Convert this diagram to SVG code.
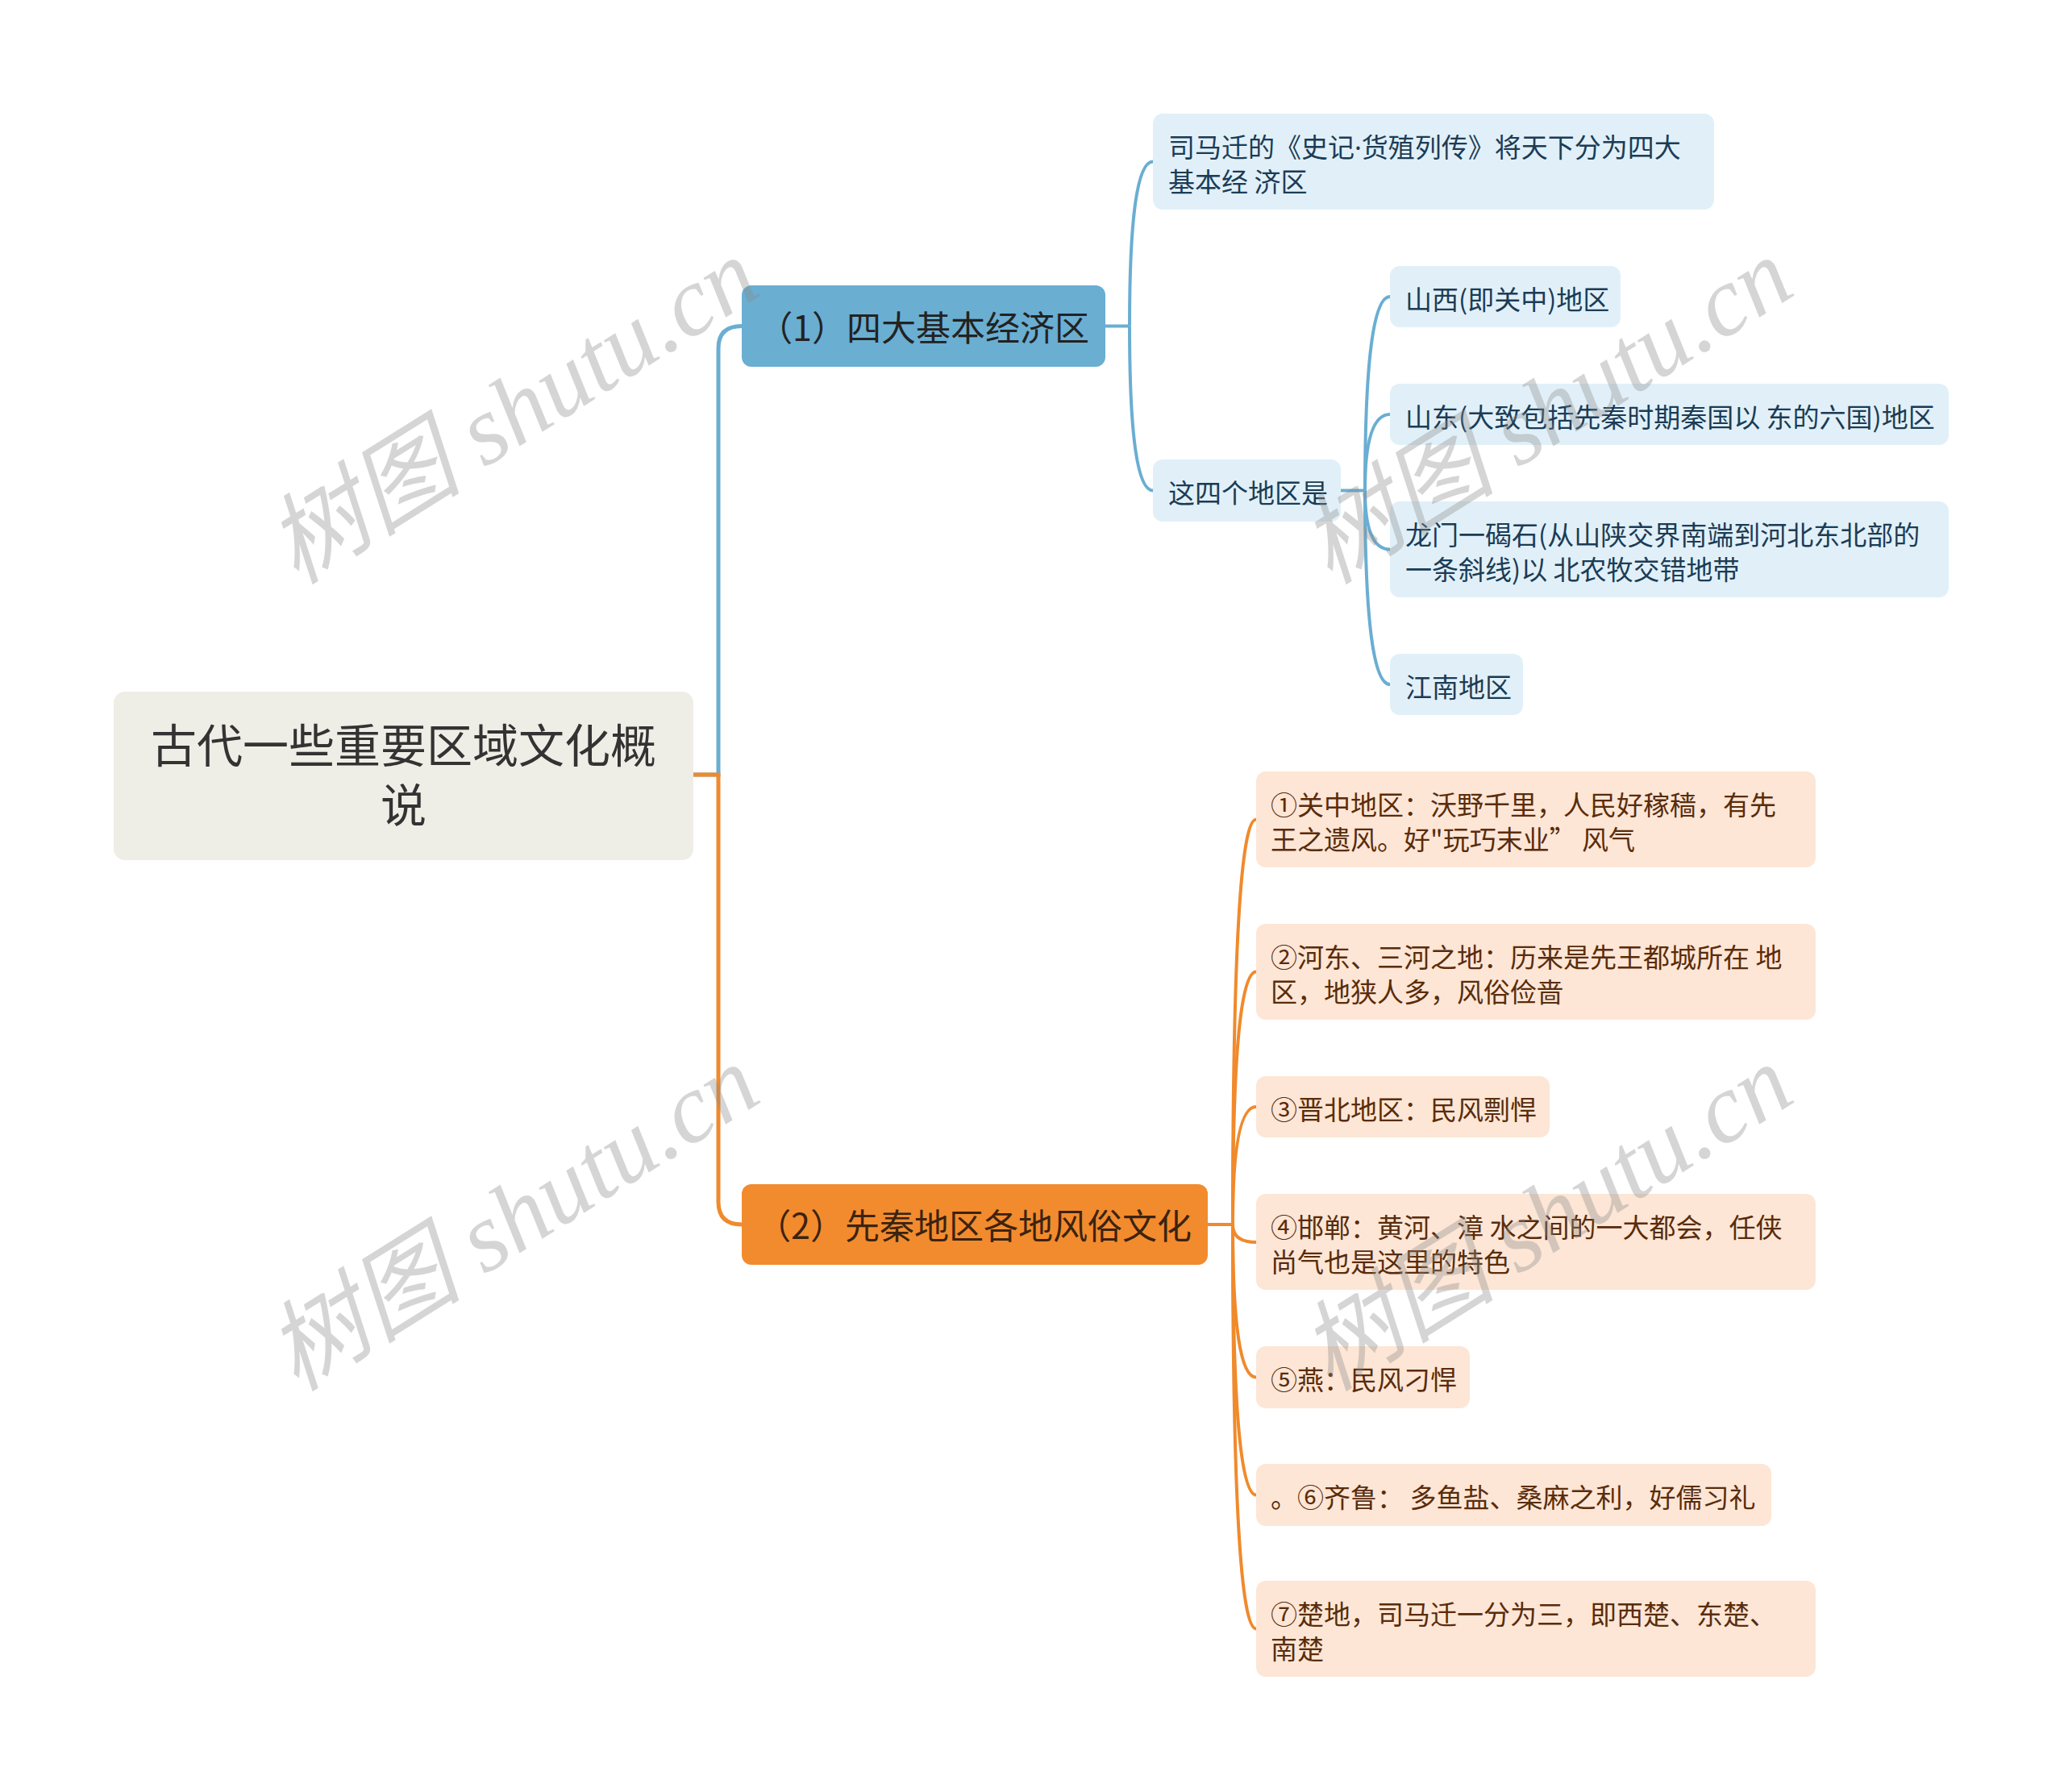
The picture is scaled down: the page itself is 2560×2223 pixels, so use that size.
<svg xmlns="http://www.w3.org/2000/svg" width="2560" height="2223" viewBox="0 0 2560 2223">
<style>
text{font-family:"Noto Sans CJK SC","Noto Sans",sans-serif;}
.root{fill:#efeee6;}
.rootT{font-size:57px;fill:#333333;text-anchor:middle;}
.b1{fill:#6aaed2;}
.b1T{font-size:43px;fill:#222222;text-anchor:end;}
.o1{fill:#f28b2e;}
.o1T{font-size:43px;fill:#3c230f;text-anchor:end;}
.b2{fill:#e1f0f8;}
.b2T{font-size:33px;fill:#1b3c56;}
.o2{fill:#fde6d6;}
.o2T{font-size:33px;fill:#5a2c0b;}
.lat{font-family:"Noto Sans","DejaVu Sans",sans-serif;}
.lb{fill:none;stroke:#6aaed2;}
.lo{fill:none;stroke:#f08a2c;}
.w1{stroke-width:5;}
.w2{stroke-width:4;}
.wm{font-family:"Liberation Serif","Noto Sans CJK SC",serif;font-style:italic;font-size:122px;fill:#8a8a8a;opacity:0.35;text-anchor:middle;}
</style>
<rect width="2560" height="2223" fill="#ffffff"/>
<g id="connectors">
<path class="lb w1" d="M860 961 H891 V432 Q891 404.5 920 404.5"/>
<path class="lo w1" d="M860 961 H891 V1491 Q891 1519 920 1519"/>
<path class="lb w2" d="M1371 404.5 H1401"/>
<path class="lb w2" d="M1401 404.5 Q1401 200.5 1430 200.5"/>
<path class="lb w2" d="M1401 404.5 Q1401 608.5 1430 608.5"/>
<path class="lb w2" d="M1663 608.5 H1693"/>
<path class="lb w2" d="M1693 608.5 Q1693 368 1724 368"/>
<path class="lb w2" d="M1693 608.5 Q1693 514 1724 514"/>
<path class="lb w2" d="M1693 608.5 Q1693 681.5 1724 681.5"/>
<path class="lb w2" d="M1693 608.5 Q1693 849 1724 849"/>
<path class="lo w2" d="M1498 1519 H1529"/>
<path class="lo w2" d="M1529 1519 Q1529 1016.5 1558 1016.5"/>
<path class="lo w2" d="M1529 1519 Q1529 1205.5 1558 1205.5"/>
<path class="lo w2" d="M1529 1519 Q1529 1373 1558 1373"/>
<path class="lo w2" d="M1529 1519 Q1529 1541 1558 1541"/>
<path class="lo w2" d="M1529 1519 Q1529 1708.5 1558 1708.5"/>
<path class="lo w2" d="M1529 1519 Q1529 1854.5 1558 1854.5"/>
<path class="lo w2" d="M1529 1519 Q1529 2020.5 1558 2020.5"/>
</g>
<g id="root">
<rect class="root" x="141" y="858" width="719" height="209" rx="14"/>
<text class="rootT" x="500.5" y="945.5">古代一些重要区域文化概</text>
<text class="rootT" x="500.5" y="1019.5">说</text>
</g>
<g id="n1">
<rect class="b1" x="920" y="354" width="451" height="101" rx="12"/>
<text class="b1T" x="1351" y="422.5">（1）四大基本经济区</text>
</g>
<g id="n2">
<rect class="o1" x="920" y="1469" width="578" height="100" rx="12"/>
<text class="o1T" x="1478" y="1536.5">（2）先秦地区各地风俗文化</text>
</g>
<g id="n1a">
<rect class="b2" x="1430" y="141" width="696" height="119" rx="12"/>
<text class="b2T" x="1449" y="194.5">司马迁的《史记<tspan class="lat">·</tspan>货殖列传》将天下分为四大</text>
<text class="b2T" x="1449" y="237.5">基本经 济区</text>
</g>
<g id="n1b">
<rect class="b2" x="1430" y="570" width="233" height="77" rx="12"/>
<text class="b2T" x="1449" y="624">这四个地区是</text>
</g>
<g id="n1b1">
<rect class="b2" x="1724" y="330" width="286" height="76" rx="12"/>
<text class="b2T" x="1743" y="383.5">山西(即关中)地区</text>
</g>
<g id="n1b2">
<rect class="b2" x="1724" y="476" width="693" height="76" rx="12"/>
<text class="b2T" x="1743" y="529.5">山东(大致包括先秦时期秦国以 东的六国)地区</text>
</g>
<g id="n1b3">
<rect class="b2" x="1724" y="622" width="693" height="119" rx="12"/>
<text class="b2T" x="1743" y="675.5">龙门一碣石(从山陕交界南端到河北东北部的</text>
<text class="b2T" x="1743" y="718.5">一条斜线)以 北农牧交错地带</text>
</g>
<g id="n1b4">
<rect class="b2" x="1724" y="811" width="165" height="76" rx="12"/>
<text class="b2T" x="1743" y="864.5">江南地区</text>
</g>
<g id="n2a">
<rect class="o2" x="1558" y="957" width="694" height="119" rx="12"/>
<text class="o2T" x="1576" y="1010.5">①关中地区：沃野千里，人民好稼穑，有先</text>
<text class="o2T" x="1576" y="1053.5">王之遗风。好"玩巧末业” 风气</text>
</g>
<g id="n2b">
<rect class="o2" x="1558" y="1146" width="694" height="119" rx="12"/>
<text class="o2T" x="1576" y="1199.5">②河东、三河之地：历来是先王都城所在 地</text>
<text class="o2T" x="1576" y="1242.5">区，地狭人多，风俗俭啬</text>
</g>
<g id="n2c">
<rect class="o2" x="1558" y="1335" width="364" height="76" rx="12"/>
<text class="o2T" x="1576" y="1388.5">③晋北地区：民风剽悍</text>
</g>
<g id="n2d">
<rect class="o2" x="1558" y="1481" width="694" height="119" rx="12"/>
<text class="o2T" x="1576" y="1534.5">④邯郸：黄河、漳 水之间的一大都会，任侠</text>
<text class="o2T" x="1576" y="1577.5">尚气也是这里的特色</text>
</g>
<g id="n2e">
<rect class="o2" x="1558" y="1670" width="265" height="77" rx="12"/>
<text class="o2T" x="1576" y="1724">⑤燕：民风刁悍</text>
</g>
<g id="n2f">
<rect class="o2" x="1558" y="1816" width="639" height="77" rx="12"/>
<text class="o2T" x="1576" y="1870">。⑥齐鲁： 多鱼盐、桑麻之利，好儒习礼</text>
</g>
<g id="n2g">
<rect class="o2" x="1558" y="1961" width="694" height="119" rx="12"/>
<text class="o2T" x="1576" y="2014.5">⑦楚地，司马迁一分为三，即西楚、东楚、</text>
<text class="o2T" x="1576" y="2057.5">南楚</text>
</g>
<g id="watermarks">
<text class="wm" transform="translate(658 545) rotate(-32)">树图 shutu.cn</text>
<text class="wm" transform="translate(1940 545) rotate(-32)">树图 shutu.cn</text>
<text class="wm" transform="translate(658 1546) rotate(-32)">树图 shutu.cn</text>
<text class="wm" transform="translate(1940 1546) rotate(-32)">树图 shutu.cn</text>
</g>
</svg>
